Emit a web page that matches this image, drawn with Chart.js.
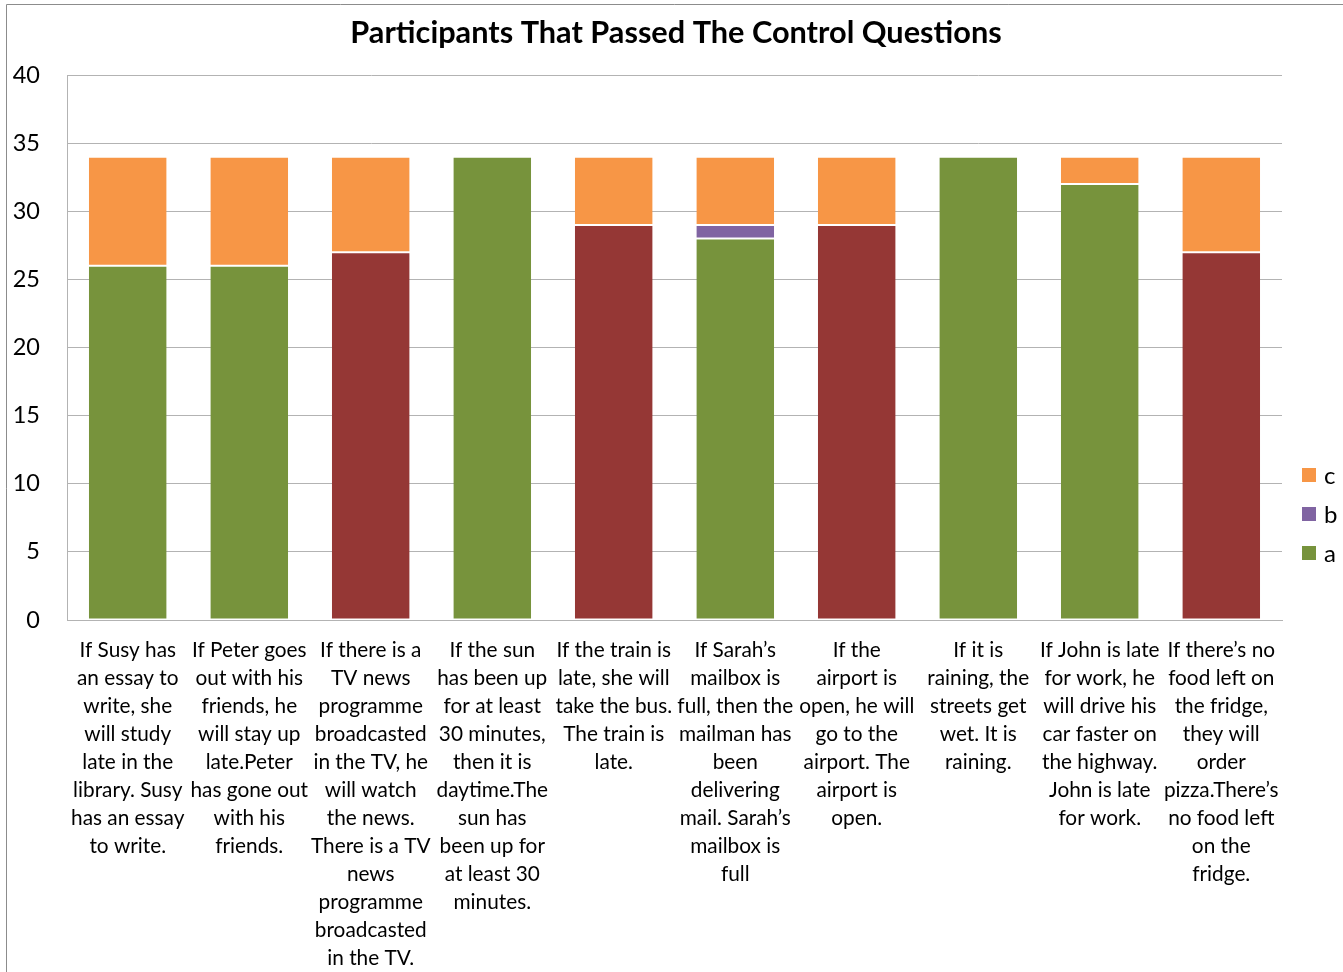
<!DOCTYPE html>
<html>
<head>
<meta charset="utf-8">
<script src="https://cdn.jsdelivr.net/npm/chart.js@4"></script>
<style>
  html, body { margin: 0; padding: 0; background: #fff; }
  #wrap { position: relative; width: 1343px; height: 972px; }
</style>
</head>
<body>
<div id="wrap"><canvas id="c" width="1343" height="972"></canvas></div>
<script>
// Statements shown under each bar (one entry per line of the label)
const categories = [
  ["If Susy has", "an essay to", "write, she", "will study", "late in the", "library. Susy", "has an essay", "to write."],
  ["If Peter goes", "out with his", "friends, he", "will stay up", "late.Peter", "has gone out", "with his", "friends."],
  ["If there is a", "TV news", "programme", "broadcasted", "in the TV, he", "will watch", "the news.", "There is a TV", "news", "programme", "broadcasted", "in the TV."],
  ["If the sun", "has been up", "for at least", "30 minutes,", "then it is", "daytime.The", "sun has", "been up for", "at least 30", "minutes."],
  ["If the train is", "late, she will", "take the bus.", "The train is", "late."],
  ["If Sarah\u2019s", "mailbox is", "full, then the", "mailman has", "been", "delivering", "mail. Sarah\u2019s", "mailbox is", "full"],
  ["If the", "airport is", "open, he will", "go to the", "airport. The", "airport is", "open."],
  ["If it is", "raining, the", "streets get", "wet. It is", "raining."],
  ["If John is late", "for work, he", "will drive his", "car faster on", "the highway.", "John is late", "for work."],
  ["If there\u2019s no", "food left on", "the fridge,", "they will", "order", "pizza.There\u2019s", "no food left", "on the", "fridge."]
];

const seriesA = [26, 26, 27, 34, 29, 28, 29, 34, 32, 27];
const seriesB = [0, 0, 0, 0, 0, 1, 0, 0, 0, 0];
const seriesC = [8, 8, 7, 0, 5, 5, 5, 0, 2, 7];

const yTicks = [0, 5, 10, 15, 20, 25, 30, 35, 40];

const titleText = "Participants That Passed The Control Questions";

// Styling
const FONT = "Lato, 'Open Sans', sans-serif";
const GREEN = "#77933C", PURPLE = "#8064A2", ORANGE = "#F79646", DARK_RED = "#953735";
const redBars = [2, 4, 6, 9];   // bars whose lower segment is drawn in dark red
const colorsA = seriesA.map((_, i) => redBars.includes(i) ? DARK_RED : GREEN);

// Frame lines and the right-hand legend
const decorations = {
  id: 'decorations',
  afterDraw(chart) {
    const ctx = chart.ctx;
    ctx.save();
    ctx.strokeStyle = '#8c8c8c';
    ctx.lineWidth = 1;
    ctx.beginPath();
    ctx.moveTo(6.5, chart.height);
    ctx.lineTo(6.5, 4.5);
    ctx.lineTo(chart.width, 4.5);
    ctx.stroke();

    // legend: last dataset at the top
    const ds = chart.data.datasets.slice().reverse();
    const x0 = 1302, y0 = 475, step = 39, box = 14;
    ctx.font = "24px " + FONT;
    ctx.textBaseline = 'middle';
    ctx.textAlign = 'left';
    ds.forEach((d, i) => {
      const y = y0 + i * step;
      ctx.fillStyle = d.legendColor;
      ctx.fillRect(x0, y - box / 2, box, box);
      ctx.fillStyle = '#000';
      ctx.fillText(d.label, x0 + box + 8, y + 1);
    });
    ctx.restore();
  }
};

new Chart(document.getElementById('c'), {
  type: 'bar',
  data: {
    labels: categories,
    datasets: [
      { label: 'a', data: seriesA, backgroundColor: colorsA, legendColor: GREEN },
      { label: 'b', data: seriesB, backgroundColor: PURPLE, legendColor: PURPLE },
      { label: 'c', data: seriesC, backgroundColor: ORANGE, legendColor: ORANGE }
    ]
  },
  options: {
    responsive: false,
    animation: false,
    datasets: {
      bar: {
        categoryPercentage: 1,
        barPercentage: 0.64,
        borderColor: '#ffffff',
        borderWidth: { top: 1, bottom: 1, left: 0, right: 0 },
        borderSkipped: false
      }
    },
    layout: { padding: { left: 9, right: 0, top: 0, bottom: 0 } },
    plugins: {
      legend: { display: false },
      tooltip: { enabled: false },
      title: {
        display: true,
        text: titleText,
        color: '#000',
        font: { family: FONT, size: 30.7, weight: 'bold', lineHeight: 1.2 },
        padding: { top: 14.6, bottom: 23.6 }
      }
    },
    scales: {
      x: {
        stacked: true,
        grid: { display: false, drawTicks: false },
        border: { display: true, color: '#b3b3b3', width: 1 },
        ticks: {
          color: '#000',
          autoSkip: false,
          maxRotation: 0,
          minRotation: 0,
          padding: 16,
          font: { family: FONT, size: 20.8, lineHeight: 1.346 }
        },
        afterFit(scale) { scale.height = 352; }
      },
      y: {
        stacked: true,
        min: 0,
        max: 40,
        afterBuildTicks(scale) { scale.ticks = yTicks.map(v => ({ value: v })); },
        grid: { color: '#b3b3b3', lineWidth: 1, drawTicks: false },
        border: { display: true, color: '#b3b3b3', width: 1 },
        ticks: {
          color: '#000',
          padding: 27,
          font: { family: FONT, size: 23.5 }
        },
        afterFit(scale) { scale.width = 58; }
      },
      // empty right-hand band that holds the legend area
      side: {
        type: 'linear',
        position: 'right',
        display: true,
        grid: { display: false, drawTicks: false },
        border: { display: false },
        ticks: { display: false },
        afterFit(scale) { scale.width = 61; }
      }
    }
  },
  plugins: [decorations]
});
</script>
</body>
</html>
